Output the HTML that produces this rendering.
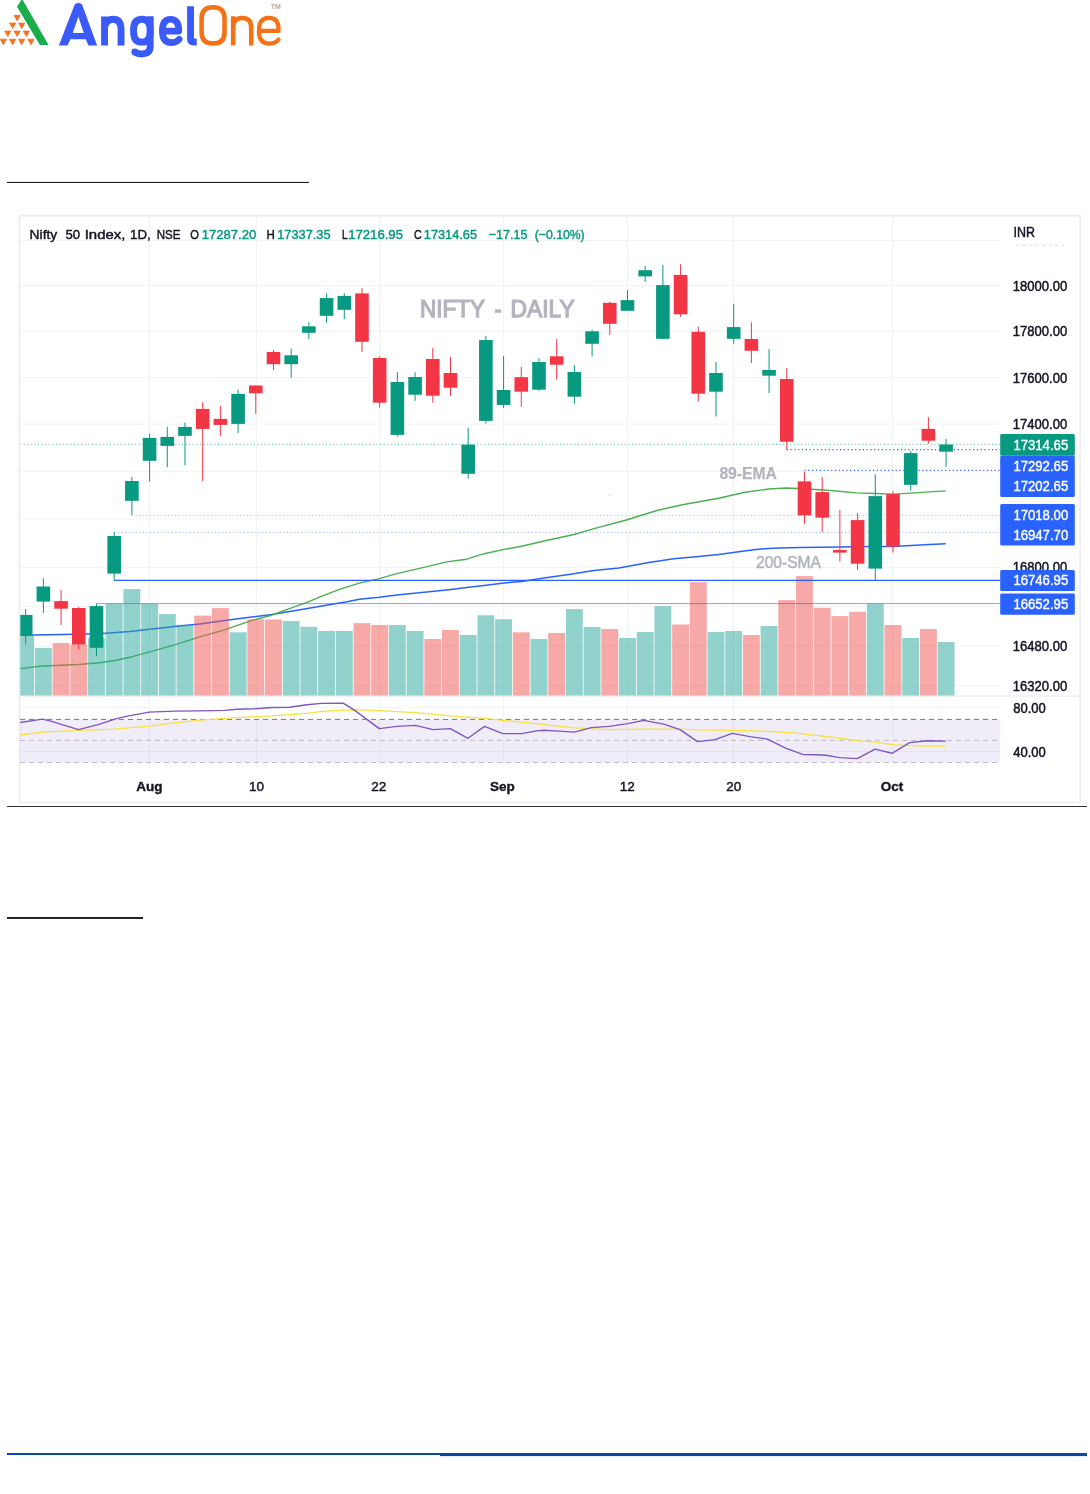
<!DOCTYPE html>
<html><head><meta charset="utf-8"><title>Nifty Daily</title>
<style>
html,body{margin:0;padding:0;background:#fff;}
body{width:1090px;height:1494px;overflow:hidden;position:relative;font-family:"Liberation Sans",sans-serif;}
svg{position:absolute;left:0;top:0;display:block;will-change:transform;}
text{font-family:"Liberation Sans",sans-serif;}
</style></head><body>
<svg width="1090" height="1494" viewBox="0 0 1090 1494">

<g id="logo">
<path d="M17.0,6.8 L21.2,0.3 Q21.9,-0.6 22.9,0.3 L48.6,44.9 L39.9,44.9 Z" fill="#1aab4b"/>
<path d="M14.0,15.3 L20.3,15.3 L17.2,20.9 Z" fill="#f37321" stroke="#f37321" stroke-width="0.8" stroke-linejoin="round"/>
<path d="M9.5,23.1 L15.8,23.1 L12.7,28.6 Z" fill="#f37321" stroke="#f37321" stroke-width="0.8" stroke-linejoin="round"/>
<path d="M18.6,23.1 L24.8,23.1 L21.7,28.6 Z" fill="#f37321" stroke="#f37321" stroke-width="0.8" stroke-linejoin="round"/>
<path d="M4.7,31.1 L10.9,31.1 L7.8,36.5 Z" fill="#f37321" stroke="#f37321" stroke-width="0.8" stroke-linejoin="round"/>
<path d="M14.0,31.1 L20.3,31.1 L17.2,36.5 Z" fill="#f37321" stroke="#f37321" stroke-width="0.8" stroke-linejoin="round"/>
<path d="M23.2,31.1 L29.5,31.1 L26.4,36.5 Z" fill="#f37321" stroke="#f37321" stroke-width="0.8" stroke-linejoin="round"/>
<path d="M0.2,39.2 L6.5,39.2 L3.4,44.8 Z" fill="#f37321" stroke="#f37321" stroke-width="0.8" stroke-linejoin="round"/>
<path d="M9.5,39.2 L15.8,39.2 L12.7,44.8 Z" fill="#f37321" stroke="#f37321" stroke-width="0.8" stroke-linejoin="round"/>
<path d="M18.6,39.2 L24.8,39.2 L21.7,44.8 Z" fill="#f37321" stroke="#f37321" stroke-width="0.8" stroke-linejoin="round"/>
<path d="M27.9,39.2 L34.1,39.2 L31.0,44.8 Z" fill="#f37321" stroke="#f37321" stroke-width="0.8" stroke-linejoin="round"/>
<g transform="translate(55,0) scale(0.13761)" fill="none" stroke="#3a5af9" stroke-width="50">
<path d="M28,330 L143,32 Q170,12 197,32 L306,330 L243,330 L224,285 L112,285 L91,330 Z M129,240 L209,240 L170,120 Z" fill="#3a5af9" stroke="none" fill-rule="evenodd"/>
<path d="M360,120 L360,330 M360,215 C360,158 392,140 422,140 C458,140 480,162 480,215 L480,330"/>
<path d="M692,218 C692,162 668,140 632,140 C596,140 571,162 571,218 L571,228 C571,284 596,306 632,306 C668,306 692,284 692,228 Z"/>
<path d="M692,118 L692,335 C692,378 668,392 628,392 C608,392 592,387 580,378"/>
<circle cx="580" cy="378" r="25" fill="#3a5af9" stroke="none"/>
<path d="M782,226 L900,226 C900,166 878,140 840,140 C802,140 780,168 780,226 C780,284 805,310 846,310 C870,310 888,302 902,286" stroke-linecap="round" stroke-linejoin="round" stroke-width="48"/>
<path d="M985,45 L985,282 Q985,305 1010,305 L1030,305"/>
</g>
<g transform="translate(190,0) scale(0.10092)" fill="none" stroke="#f47216" stroke-width="45">
<path d="M115,182 C115,102 160,72 228,72 C297,72 342,102 342,182 L342,323 C342,403 297,432 228,432 C160,432 115,403 115,323 Z"/>
<path d="M428,160 L428,450 M428,272 C428,205 465,178 518,178 C575,178 607,205 607,272 L607,450"/>
<path d="M685,307 L877,307 L877,288 C877,215 842,178 780,178 C720,178 683,220 683,307 C683,392 722,432 786,432 C826,432 856,418 878,392" stroke-linecap="round" stroke-linejoin="round" stroke-width="42"/>
</g>
<text x="270.8" y="8.9" font-size="7.6" font-weight="700" fill="#b9a79b" textLength="10" lengthAdjust="spacingAndGlyphs">TM</text>
</g>
<rect x="7" y="181.9" width="302" height="1.1" fill="#1a1a1a"/>
<rect x="7" y="806" width="1080" height="0.9" fill="#1a1a1a"/>
<rect x="7" y="917.1" width="136" height="1.7" fill="#000"/>
<rect x="7" y="1453.0" width="433" height="2.0" fill="#0a47a8"/>
<rect x="440" y="1453.0" width="647" height="3.1" fill="#0a47a8"/>
<g id="chart">
<rect x="19.5" y="215.7" width="1060.6" height="586.8" fill="#fff" stroke="#ebecf2" stroke-width="1.6"/>
<defs><clipPath id="cp"><rect x="20.3" y="216.5" width="979.7" height="552"/></clipPath></defs>
<rect x="20" y="240.0" width="980" height="1" fill="#f2f3f5"/>
<rect x="20" y="285.1" width="980" height="1" fill="#f2f3f5"/>
<rect x="20" y="330.8" width="980" height="1" fill="#f2f3f5"/>
<rect x="20" y="377.0" width="980" height="1" fill="#f2f3f5"/>
<rect x="20" y="423.6" width="980" height="1" fill="#f2f3f5"/>
<rect x="20" y="470.8" width="980" height="1" fill="#f2f3f5"/>
<rect x="20" y="518.6" width="980" height="1" fill="#f2f3f5"/>
<rect x="20" y="566.9" width="980" height="1" fill="#f2f3f5"/>
<rect x="20" y="606.0" width="980" height="1" fill="#f2f3f5"/>
<rect x="20" y="645.5" width="980" height="1" fill="#f2f3f5"/>
<rect x="20" y="685.3" width="980" height="1" fill="#f2f3f5"/>
<rect x="20" y="706.7" width="980" height="1" fill="#f2f3f5"/>
<rect x="20" y="751.1" width="980" height="1" fill="#f2f3f5"/>
<rect x="149.0" y="216.5" width="1" height="552" fill="#f2f3f5"/>
<rect x="256.0" y="216.5" width="1" height="552" fill="#f2f3f5"/>
<rect x="379.0" y="216.5" width="1" height="552" fill="#f2f3f5"/>
<rect x="503.1" y="216.5" width="1" height="552" fill="#f2f3f5"/>
<rect x="626.9" y="216.5" width="1" height="552" fill="#f2f3f5"/>
<rect x="733.0" y="216.5" width="1" height="552" fill="#f2f3f5"/>
<rect x="892.1" y="216.5" width="1" height="552" fill="#f2f3f5"/>
<rect x="20" y="695.6" width="1060" height="1" fill="#e6e7ee"/>
<rect x="20" y="719.1" width="980.2" height="43.5" fill="#7e57c2" fill-opacity="0.11"/>
<line x1="20" y1="719.4" x2="1000" y2="719.4" stroke="#787b86" stroke-width="1" stroke-dasharray="5,4"/>
<line x1="20" y1="740.4" x2="1000" y2="740.4" stroke="#b9bbc2" stroke-width="1" stroke-dasharray="5,4"/>
<line x1="20" y1="762.6" x2="1000" y2="762.6" stroke="#b9bbc2" stroke-width="1" stroke-dasharray="5,4"/>
<g clip-path="url(#cp)">
<polyline points="19.5,635.3 62.4,634.5 99.8,633.8 129.8,631.5 149.7,629.3 174.7,626.5 199.7,624.0 224.6,620.6 249.6,617.3 272.0,614.6 297.0,610.3 321.9,606.1 346.9,601.8 359.3,599.3 379.3,597.3 396.8,595.1 421.7,592.4 446.7,589.9 466.7,587.6 484.1,585.4 504.1,582.9 521.6,581.4 544.0,578.1 569.0,574.4 593.9,570.6 618.9,567.9 648.8,562.4 673.8,558.7 698.7,556.4 718.7,554.4 738.7,551.7 756.1,549.4 768.6,548.4 780.0,548.0 800.2,547.4 840.5,547.0 870.8,546.6 893.0,546.4 911.2,545.6 929.3,544.5 945.7,543.7" fill="none" stroke="#2962ff" stroke-width="1.5" stroke-linejoin="round"/>
<polyline points="19.5,668.7 42.4,666.0 78.6,664.5 99.8,662.7 114.8,660.5 132.3,656.7 149.7,651.8 174.7,644.8 199.7,636.8 224.6,629.8 249.6,621.1 272.0,615.0 289.5,608.6 306.9,602.3 321.9,596.1 339.4,589.4 359.3,583.1 379.3,578.6 396.8,573.6 421.7,567.9 446.7,561.9 466.7,559.2 484.1,553.7 504.1,549.4 521.6,546.2 544.0,541.0 574.0,534.5 593.9,528.7 626.4,520.0 643.8,514.5 658.8,510.0 683.8,504.5 718.7,498.3 743.7,492.5 768.6,489.0 786.0,488.0 804.2,488.8 830.5,490.5 856.7,492.9 874.9,493.5 893.0,494.1 911.2,493.1 929.3,491.9 945.7,490.9" fill="none" stroke="#4caf50" stroke-width="1.4" stroke-linejoin="round"/>
<rect x="17.23" y="636.0" width="16.9" height="59.5" fill="rgba(38,166,154,0.5)"/>
<rect x="34.93" y="648.0" width="16.9" height="47.5" fill="rgba(38,166,154,0.5)"/>
<rect x="52.63" y="643.0" width="16.9" height="52.5" fill="rgba(239,83,80,0.5)"/>
<rect x="70.33" y="644.3" width="16.9" height="51.2" fill="rgba(239,83,80,0.5)"/>
<rect x="88.03" y="637.8" width="16.9" height="57.7" fill="rgba(38,166,154,0.5)"/>
<rect x="105.73" y="603.6" width="16.9" height="91.9" fill="rgba(38,166,154,0.5)"/>
<rect x="123.43" y="589.1" width="16.9" height="106.4" fill="rgba(38,166,154,0.5)"/>
<rect x="141.13" y="603.6" width="16.9" height="91.9" fill="rgba(38,166,154,0.5)"/>
<rect x="158.83" y="614.1" width="16.9" height="81.4" fill="rgba(38,166,154,0.5)"/>
<rect x="176.53" y="624.8" width="16.9" height="70.7" fill="rgba(38,166,154,0.5)"/>
<rect x="194.23" y="615.6" width="16.9" height="79.9" fill="rgba(239,83,80,0.5)"/>
<rect x="211.93" y="608.1" width="16.9" height="87.4" fill="rgba(239,83,80,0.5)"/>
<rect x="229.63" y="632.3" width="16.9" height="63.2" fill="rgba(38,166,154,0.5)"/>
<rect x="247.33" y="619.3" width="16.9" height="76.2" fill="rgba(239,83,80,0.5)"/>
<rect x="265.03" y="619.5" width="16.9" height="76.0" fill="rgba(239,83,80,0.5)"/>
<rect x="282.73" y="621.1" width="16.9" height="74.4" fill="rgba(38,166,154,0.5)"/>
<rect x="300.43" y="626.8" width="16.9" height="68.7" fill="rgba(38,166,154,0.5)"/>
<rect x="318.13" y="631.0" width="16.9" height="64.5" fill="rgba(38,166,154,0.5)"/>
<rect x="335.83" y="631.0" width="16.9" height="64.5" fill="rgba(38,166,154,0.5)"/>
<rect x="353.53" y="623.1" width="16.9" height="72.4" fill="rgba(239,83,80,0.5)"/>
<rect x="371.23" y="625.0" width="16.9" height="70.5" fill="rgba(239,83,80,0.5)"/>
<rect x="388.93" y="625.0" width="16.9" height="70.5" fill="rgba(38,166,154,0.5)"/>
<rect x="406.63" y="631.0" width="16.9" height="64.5" fill="rgba(38,166,154,0.5)"/>
<rect x="424.33" y="639.0" width="16.9" height="56.5" fill="rgba(239,83,80,0.5)"/>
<rect x="442.03" y="630.0" width="16.9" height="65.5" fill="rgba(239,83,80,0.5)"/>
<rect x="459.73" y="635.0" width="16.9" height="60.5" fill="rgba(38,166,154,0.5)"/>
<rect x="477.43" y="615.3" width="16.9" height="80.2" fill="rgba(38,166,154,0.5)"/>
<rect x="495.13" y="619.3" width="16.9" height="76.2" fill="rgba(38,166,154,0.5)"/>
<rect x="512.83" y="632.3" width="16.9" height="63.2" fill="rgba(239,83,80,0.5)"/>
<rect x="530.53" y="639.0" width="16.9" height="56.5" fill="rgba(38,166,154,0.5)"/>
<rect x="548.23" y="633.0" width="16.9" height="62.5" fill="rgba(239,83,80,0.5)"/>
<rect x="565.93" y="609.1" width="16.9" height="86.4" fill="rgba(38,166,154,0.5)"/>
<rect x="583.63" y="627.0" width="16.9" height="68.5" fill="rgba(38,166,154,0.5)"/>
<rect x="601.33" y="629.0" width="16.9" height="66.5" fill="rgba(239,83,80,0.5)"/>
<rect x="619.03" y="638.0" width="16.9" height="57.5" fill="rgba(38,166,154,0.5)"/>
<rect x="636.73" y="632.0" width="16.9" height="63.5" fill="rgba(38,166,154,0.5)"/>
<rect x="654.43" y="606.1" width="16.9" height="89.4" fill="rgba(38,166,154,0.5)"/>
<rect x="672.13" y="624.5" width="16.9" height="71.0" fill="rgba(239,83,80,0.5)"/>
<rect x="689.83" y="582.1" width="16.9" height="113.4" fill="rgba(239,83,80,0.5)"/>
<rect x="707.53" y="632.0" width="16.9" height="63.5" fill="rgba(38,166,154,0.5)"/>
<rect x="725.23" y="631.0" width="16.9" height="64.5" fill="rgba(38,166,154,0.5)"/>
<rect x="742.93" y="635.0" width="16.9" height="60.5" fill="rgba(239,83,80,0.5)"/>
<rect x="760.63" y="626.0" width="16.9" height="69.5" fill="rgba(38,166,154,0.5)"/>
<rect x="778.33" y="600.1" width="16.9" height="95.4" fill="rgba(239,83,80,0.5)"/>
<rect x="796.03" y="576.1" width="16.9" height="119.4" fill="rgba(239,83,80,0.5)"/>
<rect x="813.73" y="607.8" width="16.9" height="87.7" fill="rgba(239,83,80,0.5)"/>
<rect x="831.43" y="616.1" width="16.9" height="79.4" fill="rgba(239,83,80,0.5)"/>
<rect x="849.13" y="611.8" width="16.9" height="83.7" fill="rgba(239,83,80,0.5)"/>
<rect x="866.83" y="603.6" width="16.9" height="91.9" fill="rgba(38,166,154,0.5)"/>
<rect x="884.53" y="625.0" width="16.9" height="70.5" fill="rgba(239,83,80,0.5)"/>
<rect x="902.23" y="638.0" width="16.9" height="57.5" fill="rgba(38,166,154,0.5)"/>
<rect x="919.93" y="629.0" width="16.9" height="66.5" fill="rgba(239,83,80,0.5)"/>
<rect x="937.63" y="642.0" width="16.9" height="53.5" fill="rgba(38,166,154,0.5)"/>
<line x1="20" y1="444.3" x2="1000" y2="444.3" stroke="#089981" stroke-width="1" stroke-dasharray="1,2.6" stroke-opacity="0.75"/>
<line x1="786.8" y1="449.6" x2="1000" y2="449.6" stroke="#2962ff" stroke-width="1.1" stroke-dasharray="1.2,2.6"/>
<line x1="804.5" y1="470.4" x2="1000" y2="470.4" stroke="#2962ff" stroke-width="1.1" stroke-dasharray="1.2,2.6"/>
<line x1="131.9" y1="515.4" x2="1000" y2="515.4" stroke="#2962ff" stroke-width="1" stroke-dasharray="1,2.6" stroke-opacity="0.55"/>
<line x1="114.2" y1="532.4" x2="1000" y2="532.4" stroke="#2962ff" stroke-width="1" stroke-dasharray="1,2.6" stroke-opacity="0.55"/>
<line x1="114.2" y1="580.3" x2="1000" y2="580.3" stroke="#2962ff" stroke-width="1.2"/>
<line x1="96.5" y1="603.6" x2="1000" y2="603.6" stroke="#2962ff" stroke-width="1" stroke-opacity="0.6"/>
<rect x="25.18" y="609.1" width="1" height="35.4" fill="#089981"/>
<rect x="18.88" y="614.9" width="13.6" height="20.7" fill="#089981"/>
<rect x="42.88" y="578.2" width="1" height="34.7" fill="#089981"/>
<rect x="36.58" y="586.5" width="13.6" height="15.1" fill="#089981"/>
<rect x="60.58" y="589.9" width="1" height="35.0" fill="#f23645"/>
<rect x="54.28" y="601.1" width="13.6" height="7.6" fill="#f23645"/>
<rect x="78.28" y="606.9" width="1" height="42.6" fill="#f23645"/>
<rect x="71.98" y="608.0" width="13.6" height="36.5" fill="#f23645"/>
<rect x="95.98" y="603.6" width="1" height="52.3" fill="#089981"/>
<rect x="89.68" y="606.1" width="13.6" height="41.7" fill="#089981"/>
<rect x="113.68" y="532.0" width="1" height="48.4" fill="#089981"/>
<rect x="107.38" y="536.0" width="13.6" height="37.6" fill="#089981"/>
<rect x="131.38" y="477.0" width="1" height="38.0" fill="#089981"/>
<rect x="125.08" y="481.0" width="13.6" height="19.8" fill="#089981"/>
<rect x="149.08" y="433.6" width="1" height="47.9" fill="#089981"/>
<rect x="142.78" y="437.9" width="13.6" height="22.9" fill="#089981"/>
<rect x="166.78" y="426.9" width="1" height="40.2" fill="#089981"/>
<rect x="160.48" y="436.9" width="13.6" height="9.0" fill="#089981"/>
<rect x="184.48" y="422.6" width="1" height="42.7" fill="#089981"/>
<rect x="178.18" y="426.9" width="13.6" height="9.0" fill="#089981"/>
<rect x="202.18" y="402.2" width="1" height="78.8" fill="#f23645"/>
<rect x="195.88" y="408.9" width="13.6" height="20.0" fill="#f23645"/>
<rect x="219.88" y="405.9" width="1" height="30.0" fill="#f23645"/>
<rect x="213.58" y="418.9" width="13.6" height="6.0" fill="#f23645"/>
<rect x="237.58" y="389.4" width="1" height="43.5" fill="#089981"/>
<rect x="231.28" y="393.9" width="13.6" height="30.0" fill="#089981"/>
<rect x="255.28" y="385.5" width="1" height="28.4" fill="#f23645"/>
<rect x="248.98" y="385.5" width="13.6" height="7.7" fill="#f23645"/>
<rect x="272.98" y="349.8" width="1" height="20.4" fill="#f23645"/>
<rect x="266.68" y="352.0" width="13.6" height="12.2" fill="#f23645"/>
<rect x="290.68" y="348.5" width="1" height="29.2" fill="#089981"/>
<rect x="284.38" y="355.3" width="13.6" height="8.9" fill="#089981"/>
<rect x="308.38" y="322.3" width="1" height="17.0" fill="#089981"/>
<rect x="302.08" y="326.3" width="13.6" height="6.5" fill="#089981"/>
<rect x="326.08" y="293.4" width="1" height="29.4" fill="#089981"/>
<rect x="319.78" y="298.1" width="13.6" height="17.7" fill="#089981"/>
<rect x="343.78" y="293.1" width="1" height="26.0" fill="#089981"/>
<rect x="337.48" y="295.9" width="13.6" height="13.9" fill="#089981"/>
<rect x="361.48" y="288.1" width="1" height="63.7" fill="#f23645"/>
<rect x="355.18" y="293.4" width="13.6" height="48.4" fill="#f23645"/>
<rect x="379.18" y="356.3" width="1" height="51.4" fill="#f23645"/>
<rect x="372.88" y="358.0" width="13.6" height="44.7" fill="#f23645"/>
<rect x="396.88" y="372.2" width="1" height="64.4" fill="#089981"/>
<rect x="390.58" y="382.0" width="13.6" height="52.9" fill="#089981"/>
<rect x="414.58" y="372.2" width="1" height="28.7" fill="#089981"/>
<rect x="408.28" y="377.0" width="13.6" height="17.7" fill="#089981"/>
<rect x="432.28" y="348.0" width="1" height="54.7" fill="#f23645"/>
<rect x="425.98" y="359.0" width="13.6" height="36.7" fill="#f23645"/>
<rect x="449.98" y="356.8" width="1" height="39.1" fill="#f23645"/>
<rect x="443.68" y="373.0" width="13.6" height="14.7" fill="#f23645"/>
<rect x="467.68" y="427.9" width="1" height="50.9" fill="#089981"/>
<rect x="461.38" y="444.6" width="13.6" height="29.2" fill="#089981"/>
<rect x="485.38" y="335.8" width="1" height="87.8" fill="#089981"/>
<rect x="479.08" y="340.0" width="13.6" height="80.9" fill="#089981"/>
<rect x="503.08" y="356.0" width="1" height="51.9" fill="#089981"/>
<rect x="496.78" y="390.0" width="13.6" height="14.9" fill="#089981"/>
<rect x="520.78" y="366.7" width="1" height="40.0" fill="#f23645"/>
<rect x="514.48" y="377.2" width="13.6" height="14.5" fill="#f23645"/>
<rect x="538.48" y="358.0" width="1" height="33.0" fill="#089981"/>
<rect x="532.18" y="362.0" width="13.6" height="27.7" fill="#089981"/>
<rect x="556.18" y="339.0" width="1" height="40.7" fill="#f23645"/>
<rect x="549.88" y="356.3" width="13.6" height="8.4" fill="#f23645"/>
<rect x="573.88" y="365.0" width="1" height="38.7" fill="#089981"/>
<rect x="567.58" y="372.0" width="13.6" height="24.7" fill="#089981"/>
<rect x="591.58" y="329.8" width="1" height="26.7" fill="#089981"/>
<rect x="585.28" y="331.3" width="13.6" height="12.5" fill="#089981"/>
<rect x="609.28" y="301.8" width="1" height="33.0" fill="#f23645"/>
<rect x="602.98" y="302.8" width="13.6" height="21.0" fill="#f23645"/>
<rect x="626.98" y="289.9" width="1" height="20.9" fill="#089981"/>
<rect x="620.68" y="300.1" width="13.6" height="10.7" fill="#089981"/>
<rect x="644.68" y="265.9" width="1" height="16.0" fill="#089981"/>
<rect x="638.38" y="270.2" width="13.6" height="6.2" fill="#089981"/>
<rect x="662.38" y="264.9" width="1" height="73.9" fill="#089981"/>
<rect x="656.08" y="285.1" width="13.6" height="53.7" fill="#089981"/>
<rect x="680.08" y="264.2" width="1" height="52.6" fill="#f23645"/>
<rect x="673.78" y="274.9" width="13.6" height="39.4" fill="#f23645"/>
<rect x="697.78" y="326.6" width="1" height="75.1" fill="#f23645"/>
<rect x="691.48" y="331.8" width="13.6" height="61.9" fill="#f23645"/>
<rect x="715.48" y="362.0" width="1" height="54.6" fill="#089981"/>
<rect x="709.18" y="373.0" width="13.6" height="18.7" fill="#089981"/>
<rect x="733.18" y="303.8" width="1" height="40.0" fill="#089981"/>
<rect x="726.88" y="327.1" width="13.6" height="11.7" fill="#089981"/>
<rect x="750.88" y="322.3" width="1" height="40.7" fill="#f23645"/>
<rect x="744.58" y="339.0" width="13.6" height="11.8" fill="#f23645"/>
<rect x="768.58" y="349.0" width="1" height="44.0" fill="#089981"/>
<rect x="762.28" y="370.0" width="13.6" height="5.7" fill="#089981"/>
<rect x="786.28" y="368.0" width="1" height="81.6" fill="#f23645"/>
<rect x="779.98" y="379.0" width="13.6" height="62.7" fill="#f23645"/>
<rect x="803.98" y="471.9" width="1" height="51.9" fill="#f23645"/>
<rect x="797.68" y="481.4" width="13.6" height="33.9" fill="#f23645"/>
<rect x="821.68" y="476.9" width="1" height="55.3" fill="#f23645"/>
<rect x="815.38" y="492.1" width="13.6" height="25.6" fill="#f23645"/>
<rect x="839.38" y="510.0" width="1" height="51.7" fill="#f23645"/>
<rect x="833.08" y="550.0" width="13.6" height="2.6" fill="#f23645"/>
<rect x="857.08" y="513.1" width="1" height="56.7" fill="#f23645"/>
<rect x="850.78" y="520.1" width="13.6" height="43.6" fill="#f23645"/>
<rect x="874.78" y="474.3" width="1" height="105.6" fill="#089981"/>
<rect x="868.48" y="496.1" width="13.6" height="72.5" fill="#089981"/>
<rect x="892.48" y="491.1" width="1" height="61.5" fill="#f23645"/>
<rect x="886.18" y="494.1" width="13.6" height="52.5" fill="#f23645"/>
<rect x="910.18" y="451.1" width="1" height="39.4" fill="#089981"/>
<rect x="903.88" y="453.1" width="13.6" height="31.7" fill="#089981"/>
<rect x="927.88" y="417.1" width="1" height="26.6" fill="#f23645"/>
<rect x="921.58" y="428.9" width="13.6" height="11.8" fill="#f23645"/>
<rect x="945.58" y="439.1" width="1" height="27.7" fill="#089981"/>
<rect x="939.28" y="444.5" width="13.6" height="7.2" fill="#089981"/>
<polyline points="19.5,735.1 42.4,732.1 78.6,730.4 114.8,729.1 149.2,726.1 174.7,722.9 199.7,720.1 224.6,718.4 254.6,716.6 272.0,715.9 306.9,713.4 321.9,711.4 343.1,710.1 361.8,709.9 379.3,710.6 415.5,712.6 450.4,715.9 484.6,718.4 502.8,720.4 521.6,722.1 544.0,724.6 574.4,727.9 608.9,729.6 643.8,729.1 680.0,729.1 697.5,729.9 732.4,730.4 767.4,731.4 793.6,732.9 816.0,735.4 839.7,738.3 857.2,740.6 875.1,742.1 892.1,744.6 909.6,745.6 927.1,746.1 945.8,746.1" fill="none" stroke="#f9e141" stroke-width="1.45" stroke-linejoin="round"/>
<polyline points="19.5,722.6 42.4,719.1 49.9,720.9 78.6,729.6 99.8,724.1 114.8,719.1 124.8,716.6 149.2,712.1 174.7,711.1 199.7,710.9 224.6,710.4 237.1,709.2 254.6,708.7 272.0,707.5 289.5,707.2 306.9,704.7 321.9,703.4 343.1,703.2 354.4,710.1 379.3,728.6 396.8,726.4 415.5,725.4 433.0,729.6 450.4,728.6 467.9,738.3 484.6,726.4 502.8,733.6 521.6,733.6 536.5,730.9 544.0,730.3 559.0,731.1 574.4,732.1 591.4,727.6 608.9,726.4 626.4,723.9 643.8,720.4 663.8,724.1 680.0,729.6 697.5,741.6 715.0,739.6 732.4,733.4 749.9,736.6 767.4,739.1 786.1,748.3 803.5,754.6 816.0,754.7 826.0,755.3 839.7,757.6 857.2,758.6 875.1,749.1 892.1,753.3 909.6,742.6 927.1,740.8 945.8,741.1" fill="none" stroke="#7e57c2" stroke-width="1.4" stroke-linejoin="round"/>
<rect x="609" y="494.5" width="1" height="1" fill="#aaa"/>
</g>
<text x="420.0" y="316.7" font-size="23.1" fill="#b2b5be" stroke="#b2b5be" stroke-width="1.25" textLength="65.0" lengthAdjust="spacingAndGlyphs">NIFTY</text>
<text x="494.6" y="316.7" font-size="23.1" fill="#b2b5be" stroke="#b2b5be" stroke-width="1.25" textLength="7.0" lengthAdjust="spacingAndGlyphs">-</text>
<text x="510.6" y="316.7" font-size="23.1" fill="#b2b5be" stroke="#b2b5be" stroke-width="1.25" textLength="64.2" lengthAdjust="spacingAndGlyphs">DAILY</text>
<text x="719.4" y="478.9" font-size="16.2" font-weight="700" fill="#b2b5be" stroke="#b2b5be" stroke-width="0.25" textLength="57.5" lengthAdjust="spacingAndGlyphs">89-EMA</text>
<text x="756" y="568" font-size="16" fill="#b2b5be" stroke="#b2b5be" stroke-width="0.55" textLength="65" lengthAdjust="spacingAndGlyphs">200-SMA</text>
<text x="29.6" y="238.9" font-size="13" font-weight="400" fill="#131722" textLength="27.6" lengthAdjust="spacingAndGlyphs" stroke="#131722" stroke-width="0.45">Nifty</text>
<text x="65.4" y="238.9" font-size="13" font-weight="400" fill="#131722" textLength="14.6" lengthAdjust="spacingAndGlyphs" stroke="#131722" stroke-width="0.45">50</text>
<text x="84.7" y="238.9" font-size="13" font-weight="400" fill="#131722" textLength="40.7" lengthAdjust="spacingAndGlyphs" stroke="#131722" stroke-width="0.45">Index,</text>
<text x="130.1" y="238.9" font-size="13" font-weight="400" fill="#131722" textLength="20.6" lengthAdjust="spacingAndGlyphs" stroke="#131722" stroke-width="0.45">1D,</text>
<text x="156.8" y="238.9" font-size="13" font-weight="400" fill="#131722" textLength="23.7" lengthAdjust="spacingAndGlyphs" stroke="#131722" stroke-width="0.45">NSE</text>
<text x="190.2" y="238.9" font-size="13" font-weight="400" fill="#131722" textLength="8.7" lengthAdjust="spacingAndGlyphs" stroke="#131722" stroke-width="0.45">O</text>
<text x="201.7" y="238.9" font-size="13" font-weight="400" fill="#089981" textLength="54.5" lengthAdjust="spacingAndGlyphs" stroke="#089981" stroke-width="0.45">17287.20</text>
<text x="266.5" y="238.9" font-size="13" font-weight="400" fill="#131722" textLength="8.3" lengthAdjust="spacingAndGlyphs" stroke="#131722" stroke-width="0.45">H</text>
<text x="277.2" y="238.9" font-size="13" font-weight="400" fill="#089981" textLength="53.4" lengthAdjust="spacingAndGlyphs" stroke="#089981" stroke-width="0.45">17337.35</text>
<text x="341.9" y="238.9" font-size="13" font-weight="400" fill="#131722" textLength="5.6" lengthAdjust="spacingAndGlyphs" stroke="#131722" stroke-width="0.45">L</text>
<text x="348.2" y="238.9" font-size="13" font-weight="400" fill="#089981" textLength="54.8" lengthAdjust="spacingAndGlyphs" stroke="#089981" stroke-width="0.45">17216.95</text>
<text x="414.1" y="238.9" font-size="13" font-weight="400" fill="#131722" textLength="7.7" lengthAdjust="spacingAndGlyphs" stroke="#131722" stroke-width="0.45">C</text>
<text x="423.8" y="238.9" font-size="13" font-weight="400" fill="#089981" textLength="53.3" lengthAdjust="spacingAndGlyphs" stroke="#089981" stroke-width="0.45">17314.65</text>
<text x="488.8" y="238.9" font-size="13" font-weight="400" fill="#089981" textLength="38.7" lengthAdjust="spacingAndGlyphs" stroke="#089981" stroke-width="0.45">−17.15</text>
<text x="534.8" y="238.9" font-size="13" font-weight="400" fill="#089981" textLength="49.9" lengthAdjust="spacingAndGlyphs" stroke="#089981" stroke-width="0.45">(−0.10%)</text>
<text x="1013.6" y="237" font-size="13.8" font-weight="400" fill="#131722" textLength="21.4" lengthAdjust="spacingAndGlyphs" stroke="#131722" stroke-width="0.45">INR</text>
<line x1="1016" y1="245.3" x2="1066" y2="245.3" stroke="#d9dade" stroke-width="0.9" stroke-dasharray="3,3.5"/>
<text x="1012.8" y="290.6" font-size="14" font-weight="400" fill="#131722" textLength="54.4" lengthAdjust="spacingAndGlyphs" stroke="#131722" stroke-width="0.5">18000.00</text>
<text x="1012.8" y="336.3" font-size="14" font-weight="400" fill="#131722" textLength="54.4" lengthAdjust="spacingAndGlyphs" stroke="#131722" stroke-width="0.5">17800.00</text>
<text x="1012.8" y="382.5" font-size="14" font-weight="400" fill="#131722" textLength="54.4" lengthAdjust="spacingAndGlyphs" stroke="#131722" stroke-width="0.5">17600.00</text>
<text x="1012.8" y="429.1" font-size="14" font-weight="400" fill="#131722" textLength="54.4" lengthAdjust="spacingAndGlyphs" stroke="#131722" stroke-width="0.5">17400.00</text>
<text x="1012.8" y="572.4" font-size="14" font-weight="400" fill="#131722" textLength="54.4" lengthAdjust="spacingAndGlyphs" stroke="#131722" stroke-width="0.5">16800.00</text>
<text x="1012.8" y="651.0" font-size="14" font-weight="400" fill="#131722" textLength="54.4" lengthAdjust="spacingAndGlyphs" stroke="#131722" stroke-width="0.5">16480.00</text>
<text x="1012.8" y="690.8" font-size="14" font-weight="400" fill="#131722" textLength="54.4" lengthAdjust="spacingAndGlyphs" stroke="#131722" stroke-width="0.5">16320.00</text>
<text x="1013.2" y="712.9" font-size="14" font-weight="400" fill="#131722" textLength="32.6" lengthAdjust="spacingAndGlyphs" stroke="#131722" stroke-width="0.5">80.00</text>
<text x="1013.2" y="756.6" font-size="14" font-weight="400" fill="#131722" textLength="32.6" lengthAdjust="spacingAndGlyphs" stroke="#131722" stroke-width="0.5">40.00</text>
<rect x="1000.2" y="434.1" width="74.6" height="21.7" rx="1.5" fill="#089981"/>
<text x="1013.4" y="449.7" font-size="14.3" font-weight="400" fill="#fff" textLength="54.8" lengthAdjust="spacingAndGlyphs" stroke="#fff" stroke-width="0.4">17314.65</text>
<rect x="1000.2" y="455.8" width="74.6" height="41.2" rx="1.5" fill="#2962ff"/>
<text x="1013.4" y="470.5" font-size="14.3" font-weight="400" fill="#fff" textLength="54.8" lengthAdjust="spacingAndGlyphs" stroke="#fff" stroke-width="0.4">17292.65</text>
<text x="1013.4" y="491.09999999999997" font-size="14.3" font-weight="400" fill="#fff" textLength="54.8" lengthAdjust="spacingAndGlyphs" stroke="#fff" stroke-width="0.4">17202.65</text>
<rect x="1000.2" y="504.0" width="74.6" height="41.4" rx="1.5" fill="#2962ff"/>
<text x="1013.4" y="520.1" font-size="14.3" font-weight="400" fill="#fff" textLength="54.8" lengthAdjust="spacingAndGlyphs" stroke="#fff" stroke-width="0.4">17018.00</text>
<text x="1013.4" y="540.3000000000001" font-size="14.3" font-weight="400" fill="#fff" textLength="54.8" lengthAdjust="spacingAndGlyphs" stroke="#fff" stroke-width="0.4">16947.70</text>
<rect x="1000.2" y="569.9" width="74.6" height="21.2" rx="1.5" fill="#2962ff"/>
<text x="1013.4" y="585.3000000000001" font-size="14.3" font-weight="400" fill="#fff" textLength="54.8" lengthAdjust="spacingAndGlyphs" stroke="#fff" stroke-width="0.4">16746.95</text>
<rect x="1000.2" y="593.6" width="74.6" height="21.2" rx="1.5" fill="#2962ff"/>
<text x="1013.4" y="609.0" font-size="14.3" font-weight="400" fill="#fff" textLength="54.8" lengthAdjust="spacingAndGlyphs" stroke="#fff" stroke-width="0.4">16652.95</text>
<text x="149.4" y="791.4" font-size="13.5" font-weight="700" fill="#131722" stroke="#131722" stroke-width="0.35" text-anchor="middle">Aug</text>
<text x="256.5" y="791.4" font-size="13.5" font-weight="400" fill="#131722" stroke="#131722" stroke-width="0.45" text-anchor="middle">10</text>
<text x="378.8" y="791.4" font-size="13.5" font-weight="400" fill="#131722" stroke="#131722" stroke-width="0.45" text-anchor="middle">22</text>
<text x="502.3" y="791.4" font-size="13.5" font-weight="700" fill="#131722" stroke="#131722" stroke-width="0.35" text-anchor="middle">Sep</text>
<text x="627.2" y="791.4" font-size="13.5" font-weight="400" fill="#131722" stroke="#131722" stroke-width="0.45" text-anchor="middle">12</text>
<text x="733.7" y="791.4" font-size="13.5" font-weight="400" fill="#131722" stroke="#131722" stroke-width="0.45" text-anchor="middle">20</text>
<text x="892.1" y="791.4" font-size="13.5" font-weight="700" fill="#131722" stroke="#131722" stroke-width="0.35" text-anchor="middle">Oct</text>
</g>
</svg></body></html>
